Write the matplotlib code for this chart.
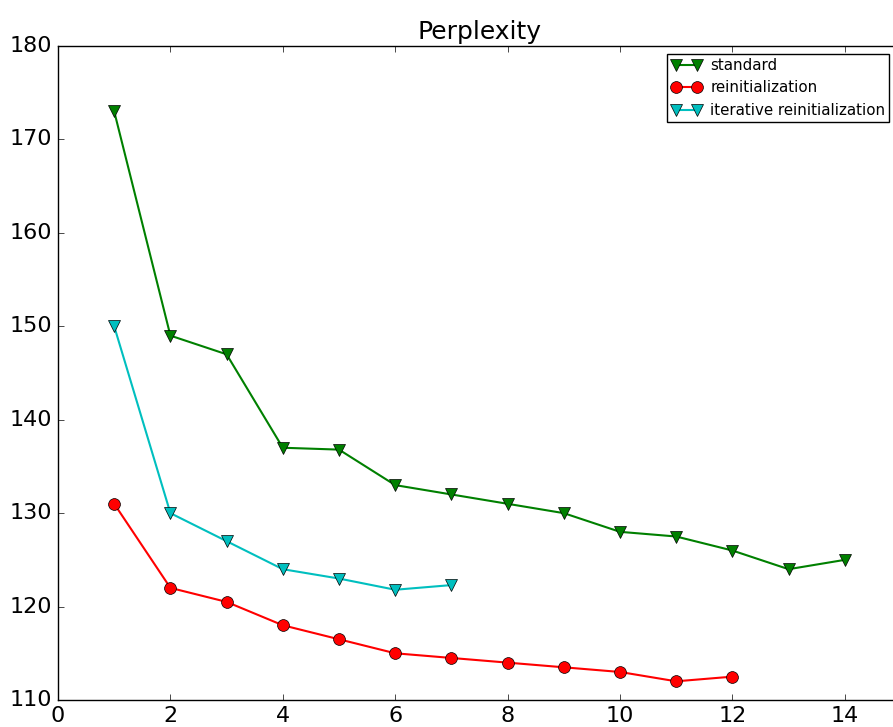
import matplotlib
matplotlib.use("Agg")
import matplotlib.pyplot as plt

plt.style.use("classic")

x_standard = [1, 2, 3, 4, 5, 6, 7, 8, 9, 10, 11, 12, 13, 14]
y_standard = [173, 149, 147, 137, 136.8, 133, 132, 131, 130, 128, 127.5, 126, 124, 125]
x_reinit = [1, 2, 3, 4, 5, 6, 7, 8, 9, 10, 11, 12]
y_reinit = [131, 122, 120.5, 118, 116.5, 115, 114.5, 114, 113.5, 113, 112, 112.5]
x_iter = [1, 2, 3, 4, 5, 6, 7]
y_iter = [150, 130, 127, 124, 123, 121.8, 122.3]

fig = plt.figure(figsize=(8.93, 7.27), dpi=100, facecolor="white")
ax = fig.add_axes([58/893, 27/727, (901-58)/893, (700-46)/727])

ax.plot(x_standard, y_standard, "gv-", markersize=8.5, linewidth=1.5, label="standard")
ax.plot(x_reinit, y_reinit, "ro-", markersize=8.5, linewidth=1.5, label="reinitialization")
ax.plot(x_iter, y_iter, "cv-", markersize=8.5, linewidth=1.5, label="iterative reinitialization")

ax.set_xlim(0, 15)
ax.set_ylim(110, 180)
ax.set_xticks([0, 2, 4, 6, 8, 10, 12, 14])
ax.tick_params(labelsize=16)
ax.set_title("Perplexity", fontsize=18)
ax.legend(loc="upper right", fontsize=10.8, numpoints=2, borderaxespad=0,
          borderpad=0.25, handletextpad=0.6, handlelength=2.0,
          bbox_to_anchor=(889/893, 1 - 54/727), bbox_transform=fig.transFigure)

fig.savefig("out.png", dpi=100, facecolor="white")
